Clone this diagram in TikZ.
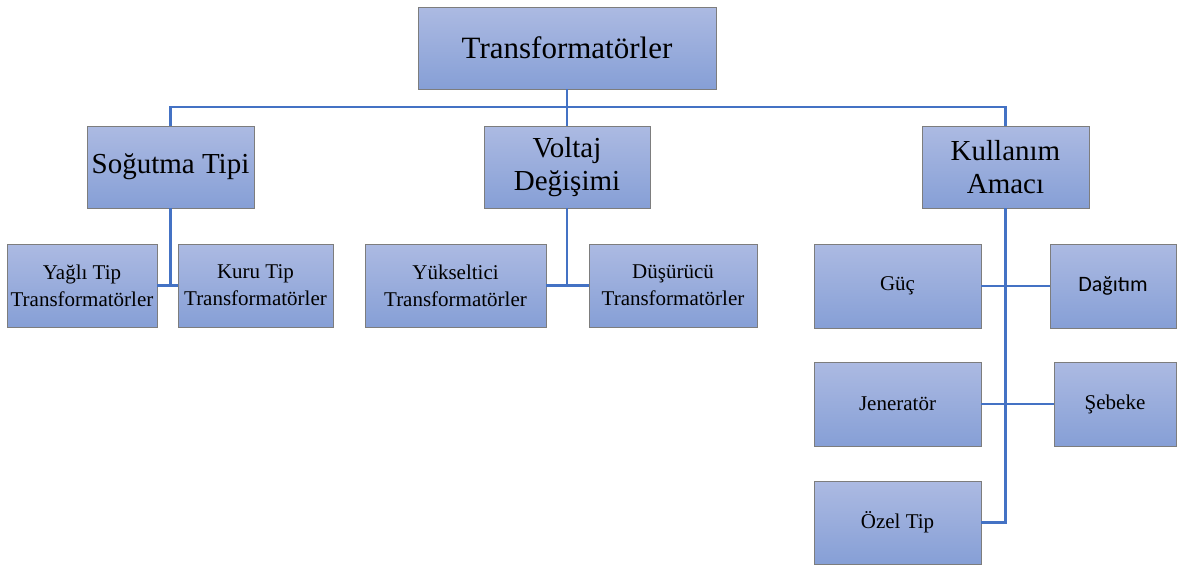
\documentclass[tikz,border=0pt]{standalone}
\usepackage{fontspec}
\setmainfont{Liberation Serif}
\newfontfamily\calfont{Carlito}
\definecolor{lineblue}{RGB}{68,114,196}
\definecolor{boxtop}{RGB}{172,186,226}
\definecolor{boxbot}{RGB}{134,159,214}
\definecolor{boxedge}{RGB}{125,125,125}
\tikzset{
  orgbox/.style={rectangle, draw=boxedge, line width=0.8pt, top color=boxtop, bottom color=boxbot, align=center, inner sep=0pt},
  lvlone/.style={orgbox, font=\fontsize{31}{36}\selectfont},
  lvltwo/.style={orgbox, font=\fontsize{29}{33}\selectfont},
  lvlthree/.style={orgbox, font=\fontsize{21}{27}\selectfont},
  conn/.style={draw=lineblue, line width=2.6pt}
}
\begin{document}
\begin{tikzpicture}[x=1pt,y=-1pt]
\useasboundingbox (0,0) rectangle (1177,565);
% level 1
\node[lvlone, minimum width=298pt, minimum height=82pt] (top) at (567,48) {Transformatörler};
% level 2
\node[lvltwo, minimum width=167pt, minimum height=82pt] (sog) at (170.5,167) {Soğutma Tipi};
\node[lvltwo, minimum width=166pt, minimum height=82pt] (vol) at (567,167) {Voltaj\\Değişimi};
\node[lvltwo, minimum width=167pt, minimum height=82pt] (kul) at (1005.5,167) {Kullanım\\Amacı};
% level 3
\node[lvlthree, minimum width=150pt, minimum height=83pt] (yag) at (82,285.5) {Yağlı Tip\\Transformatörler};
\node[lvlthree, minimum width=155pt, minimum height=83pt] (kur) at (255.5,285.5) {Kuru Tip\\Transformatörler};
\node[lvlthree, minimum width=181pt, minimum height=83pt] (yuk) at (455.5,285.5) {Yükseltici\\Transformatörler};
\node[lvlthree, minimum width=168pt, minimum height=83pt] (dus) at (673,285.5) {Düşürücü\\Transformatörler};
\node[lvlthree, minimum width=167pt, minimum height=84pt] (guc) at (897.5,286) {Güç};
\node[lvlthree, minimum width=126pt, minimum height=84pt, font=\calfont\fontsize{22}{26}\selectfont] (dag) at (1113,286) {Dağıtım};
\node[lvlthree, minimum width=167pt, minimum height=84pt] (jen) at (897.5,404) {Jeneratör};
\node[lvlthree, minimum width=122pt, minimum height=84pt] (seb) at (1115,404) {Şebeke};
\node[lvlthree, minimum width=167pt, minimum height=83pt] (oze) at (897.5,522.5) {Özel Tip};
% connectors
\coordinate (bus) at (567,107);
\draw[conn] (top.south) -- (vol.north);
\draw[conn] (sog.north) |- (bus) -| (kul.north);
\draw[conn] (sog.south) -- (sog.south |- yag.east);
\draw[conn] (yag.east) -- (kur.west);
\draw[conn] (vol.south) -- (vol.south |- yuk.east);
\draw[conn] (yuk.east) -- (dus.west);
\draw[conn] (kul.south) |- (oze.east);
\draw[conn] (guc.east) -- (dag.west);
\draw[conn] (jen.east) -- (seb.west);
\end{tikzpicture}
\end{document}
